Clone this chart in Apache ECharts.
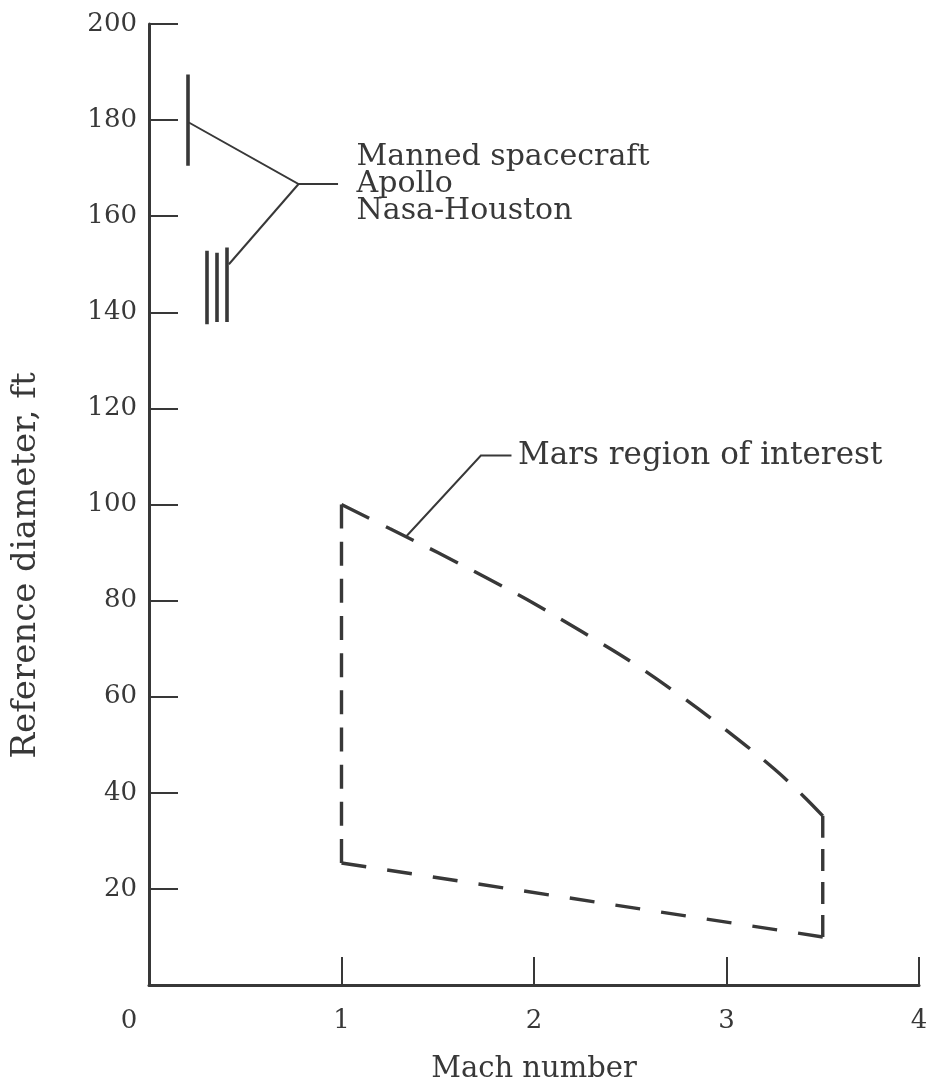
<!DOCTYPE html>
<html>
<head>
<meta charset="utf-8">
<script src="https://cdn.jsdelivr.net/npm/echarts@6/dist/echarts.min.js"></script>
<style>
  html, body { margin: 0; padding: 0; background: #ffffff; }
  #chart { width: 930px; height: 1088px; }
</style>
</head>
<body>
<div id="chart"></div>
<script>
// Axis ticks
const machTicks = [0, 1, 2, 3, 4];
const diameterTicks = [0, 20, 40, 60, 80, 100, 120, 140, 160, 180, 200];

// Mars region of interest: upper boundary (curved) and lower boundary (straight)
const marsUpperMach = [1.0, 1.25, 1.5, 1.75, 2.0, 2.25, 2.5, 2.75, 3.0, 3.25, 3.4, 3.5];
const marsUpperDiam = [100, 95, 90, 84.8, 79.4, 73.5, 67.4, 60.5, 53.0, 44.9, 39.3, 35.2];
const marsLowerMach = [1.0, 3.5];
const marsLowerDiam = [25.4, 10];

// Manned spacecraft / Apollo test bars (Mach, diameter range)
const apolloMach = [0.2, 0.30, 0.35, 0.405];
const apolloLow  = [170.5, 137.5, 138.0, 138.0];
const apolloHigh = [189.5, 152.8, 152.4, 153.5];

// Callout leader lines (Mach, diameter)
const apolloLeaderA = [[0.207, 179.5], [0.777, 166.7], [0.982, 166.7]];
const apolloLeaderB = [[0.415, 150.0], [0.777, 166.7]];
const marsLeader    = [[1.337, 93.4], [1.724, 110.2], [1.883, 110.2]];

const apolloText = 'Manned spacecraft\nApollo\nNasa-Houston';
const marsText = 'Mars region of interest';

const INK = '#383838';
const FONT = '"DejaVu Serif", "Liberation Serif", serif';

const chart = echarts.init(document.getElementById('chart'), null, { renderer: 'canvas' });

const marsLeft   = [[marsLowerMach[0], marsLowerDiam[0]], [marsUpperMach[0], marsUpperDiam[0]]];
const marsTop    = marsUpperMach.map((m, i) => [m, marsUpperDiam[i]]);
const marsRight  = [[marsUpperMach[marsUpperMach.length - 1], marsUpperDiam[marsUpperDiam.length - 1]],
                    [marsLowerMach[1], marsLowerDiam[1]]];
const marsBottom = [[marsLowerMach[1], marsLowerDiam[1]], [marsLowerMach[0], marsLowerDiam[0]]];

function boundary(id, data, smooth) {
  return {
    id: id,
    type: 'line',
    data: data,
    smooth: smooth || false,
    symbol: 'none',
    silent: true,
    lineStyle: { color: INK, width: 3.4, type: 'dashed', opacity: 1 },
    z: 3
  };
}

const textStyle = { color: INK, fontFamily: FONT };

chart.setOption({
  animation: false,
  backgroundColor: '#ffffff',
  grid: { left: 149, right: 11, top: 24, bottom: 103, containLabel: false, outerBoundsMode: 'none' },
  xAxis: {
    type: 'value',
    min: machTicks[0],
    max: machTicks[machTicks.length - 1],
    interval: 1,
    splitLine: { show: false },
    axisLine: { show: true, onZero: true, lineStyle: { color: INK, width: 3 } },
    axisTick: { show: true, inside: true, length: 28, lineStyle: { color: INK, width: 2 } },
    axisLabel: {
      ...textStyle,
      fontSize: 26,
      margin: 23,
      formatter: v => (v === 0 ? '{z|0}' : String(v)),
      rich: { z: { ...textStyle, fontSize: 26, padding: [0, 40, 0, 0] } }
    },
    name: 'Mach number',
    nameLocation: 'middle',
    nameGap: 70,
    nameTextStyle: { ...textStyle, fontSize: 29 }
  },
  yAxis: {
    type: 'value',
    min: diameterTicks[0],
    max: diameterTicks[diameterTicks.length - 1],
    interval: 20,
    splitLine: { show: false },
    axisLine: { show: true, lineStyle: { color: INK, width: 3 } },
    axisTick: { show: true, inside: true, length: 29, lineStyle: { color: INK, width: 2 } },
    axisLabel: {
      ...textStyle,
      fontSize: 26,
      margin: 12,
      formatter: v => (v === 0 ? '' : String(v))
    },
    name: 'Reference diameter, ft',
    nameLocation: 'middle',
    nameGap: 106,
    nameTextStyle: { ...textStyle, fontSize: 34, padding: [0, 122, 0, 0] }
  },
  series: [
    boundary('marsLeft', marsLeft),
    boundary('marsTop', marsTop, 0.35),
    boundary('marsRight', marsRight),
    boundary('marsBottom', marsBottom),
    {
      id: 'apolloBars',
      type: 'lines',
      coordinateSystem: 'cartesian2d',
      silent: true,
      lineStyle: { color: INK, width: 3.6, opacity: 1 },
      data: apolloMach.map((m, i) => ({ coords: [[m, apolloLow[i]], [m, apolloHigh[i]]] })),
      z: 3
    },
    {
      id: 'leaders',
      type: 'lines',
      coordinateSystem: 'cartesian2d',
      polyline: true,
      silent: true,
      lineStyle: { color: INK, width: 2, opacity: 1 },
      data: [{ coords: apolloLeaderA }, { coords: apolloLeaderB }, { coords: marsLeader }],
      z: 3
    },
    {
      id: 'callouts',
      type: 'scatter',
      silent: true,
      symbolSize: 1,
      itemStyle: { color: 'rgba(0,0,0,0)', opacity: 1 },
      emphasis: { disabled: true },
      data: [
        { value: apolloLeaderA[2], label: { formatter: apolloText, distance: 18, lineHeight: 27, fontSize: 30 } },
        { value: marsLeader[2], label: { formatter: marsText, distance: 6, fontSize: 31 } }
      ],
      label: { show: true, position: 'right', ...textStyle, opacity: 1, align: 'left', verticalAlign: 'middle' },
      z: 4
    }
  ]
});

// Fit each side's dash pattern so every side starts and ends on a dash,
// which keeps the four corners of the region closed.
function pixelLength(points) {
  let len = 0;
  for (let i = 1; i < points.length; i++) {
    const a = chart.convertToPixel({ gridIndex: 0 }, points[i - 1]);
    const b = chart.convertToPixel({ gridIndex: 0 }, points[i]);
    len += Math.hypot(b[0] - a[0], b[1] - a[1]);
  }
  return len;
}
function fitDash(points, dash, gap) {
  const len = pixelLength(points);
  const n = Math.max(2, Math.round((len + gap) / (dash + gap)));
  const g = (len - n * dash) / (n - 1);
  return [dash, g];
}

chart.setOption({
  series: [
    { id: 'marsLeft',   lineStyle: { type: fitDash(marsLeft, 24, 13) } },
    { id: 'marsTop',    lineStyle: { type: fitDash(marsTop, 31, 19) } },
    { id: 'marsRight',  lineStyle: { type: fitDash(marsRight, 22, 13) } },
    { id: 'marsBottom', lineStyle: { type: fitDash(marsBottom, 25, 19) } }
  ]
});
</script>
</body>
</html>
